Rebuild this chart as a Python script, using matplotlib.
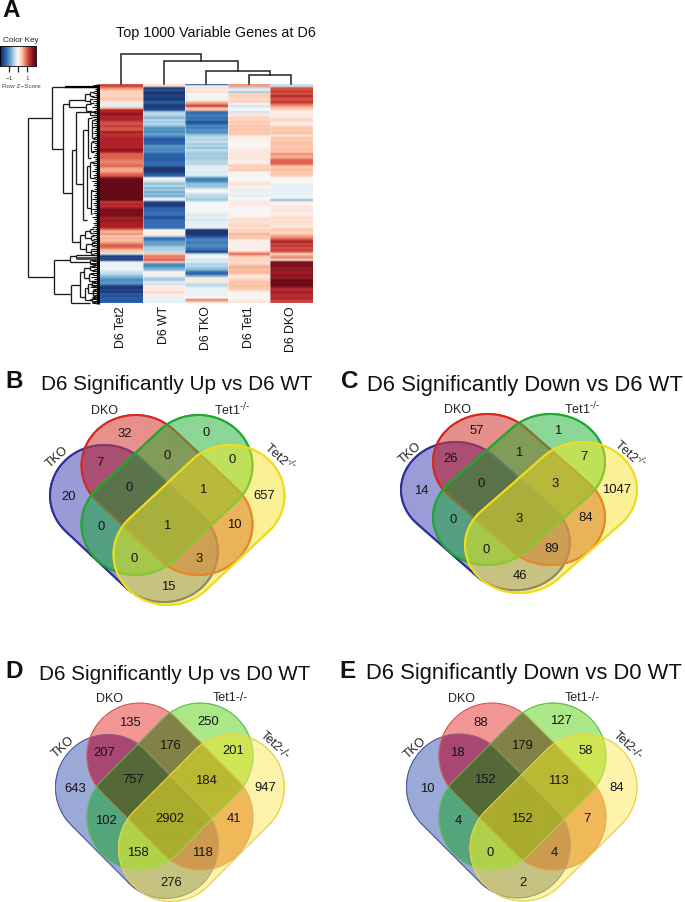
import numpy as np
import matplotlib
matplotlib.use("Agg")
import matplotlib.pyplot as plt
from matplotlib.colors import LinearSegmentedColormap, to_rgb
from matplotlib.collections import LineCollection

plt.rcParams['font.family'] = ['Liberation Sans', 'DejaVu Sans']
plt.rcParams['mathtext.default'] = 'regular'

W, H = 685, 902

# ---------------- data ----------------
samples = ["D6 Tet2", "D6 WT", "D6 TKO", "D6 Tet1", "D6 DKO"]
tet2 = [1.0,1.3,.8,.5,.3,.4,.3,.5,.4,.2,-.2,-.2,.5,1.5,1.5,1.8,1.5,1.5,1.5,1.2,1.1,1.3,1.1,1.1,1.6,1.4,1.4,1.5,1.5,1.5,1.5,1.5,1.5,1.8,1.5,1.0,1.0,1.0,
        .9,.8,.9,1.0,.7,.6,.7,1.0,1.1,1.8,2,2,2,2,2,2,2,2,2,2,2,1.3,1.5,1.4,1.6,1.9,1.8,1.9,1.8,1.5,1.7,1.6,1.5,1.6,1.4,.8,.5,
        .8,.4,.6,.5,.6,.9,1.1,.9,.5,.4,-.3,-1.8,-1.7,-1.8,-.2,-.1,-.2,0,-.2,-.3,-.4,-.7,-.9,-1.2,-1.0,-1.1,-1.8,-1.9,-1.7,-1.9,-1.5,-1.7,-1.5,-1.6,-1.5]
wt = [.3,.2,-1.9,-1.6,-1.9,-1.9,-1.7,-1.9,-1.9,-1.5,-1.7,-1.9,-1.8,-1.7,-.5,-.4,-.5,-.8,-.4,-.6,-.4,-.7,-1.1,-1.0,-1.2,-.9,-1.1,-1.5,-1.6,-1.5,-1.5,-1.0,-1.1,-1.2,-1.1,-1.5,-1.5,-1.5,
      -1.6,-1.4,-1.4,-1.5,-1.9,-1.9,-1.9,-1.6,-1.5,0,-.1,-.4,-.7,-.4,-.8,-.5,-.9,-.6,-.9,-.3,0,-1.7,-1.9,-1.8,-1.5,-1.5,-1.4,-1.3,-1.5,-1.7,-1.4,-1.4,-1.4,-1.4,-1.4,0,.1,
      .1,-.3,-1.4,-1.3,-.9,-1.0,-.7,-.5,-.5,-.4,.4,.9,.8,1.1,.4,-1.1,-1.2,-.9,-.7,0,.1,-.1,-.5,-.6,-.2,-.3,.1,.2,.1,.3,.2,.1,-.15,-.15,-.15]
tko = [-1.7,-.1,.3,.1,.3,0,-.1,-.05,.1,.5,.8,1.3,.5,.5,-1.4,-1.4,-1.2,-1.4,-1.3,-1.7,-1.5,-1.1,-1.3,-1.0,-1.2,-.8,-.5,-.4,-.5,-.3,-.6,-.4,-.7,-.3,-.5,-.6,-.5,-.6,
       -.5,-.4,-.5,-.2,-.2,-.15,-.25,-.2,-.3,-1.1,-1.3,-1.0,-.6,-.7,-.4,-.05,0,-.35,-.4,-.5,-.6,-.1,0,-.02,.02,0,-.05,-.2,-.25,-.1,-.3,-.15,-.2,-.1,-.25,-1.9,-1.9,
       -1.9,-1.7,-1.4,-1.1,-1.3,-1.2,-1.1,-1.3,-1.4,-1.8,-.4,0,-.1,-.3,-.2,-.5,-.4,-.6,-.8,-1.4,-1.5,-.8,.1,.2,.1,-.4,-.4,-.1,-.15,-.1,-.15,-.05,.05,.9,.3]
tet1 = [.7,.7,-.4,.05,-.6,.3,.4,.3,.3,.4,0,-.3,-.1,0,-.3,.2,.2,.4,.3,.5,.3,.5,.4,.5,.4,.5,.2,.1,.1,.05,-.03,0,.1,.15,.2,.2,.15,.2,
        .15,.05,.2,.45,.3,.5,.1,-.05,-.05,0,.02,.15,.25,.1,.05,-.2,-.1,-.1,-.2,0,-.1,.15,.2,.1,.05,0,-.03,.05,.05,.2,.3,.2,.3,.35,.2,.4,.3,
        .6,.4,.5,.15,.1,.1,.05,.15,.05,.5,1.0,.5,.3,.35,.3,.3,.55,.6,.45,.6,.4,.15,.25,.35,.5,.45,.5,.45,.4,.05,.02,.05,0,.15,.2]
dko = [-.4,-.3,1.1,1.2,1.3,1.1,1.5,1.2,1.1,1.4,1.0,.7,.5,.3,.05,.15,.1,.2,.4,.15,.05,.3,.5,.4,.5,.45,.2,.5,.4,.5,.5,.45,.5,.5,.45,.8,.6,.7,
       1.0,1.0,1.0,.5,.45,.55,.4,.5,.35,.02,.02,.05,-.1,-.15,-.1,-.2,-.05,-.2,-.1,-.1,-.7,.1,.05,.2,.15,.2,.15,.05,.2,.3,.2,.3,.25,.15,.3,.5,.3,.45,
       .7,.8,1.3,1.5,1.2,1.4,1.1,1.3,1.0,.3,.7,.8,.2,1.9,1.8,1.9,1.6,1.8,1.6,1.7,1.8,1.6,2.0,1.9,2.0,1.9,1.5,1.4,1.6,1.5,1.4,1.5,1.3,1.2]

# column dendrogram: (left x position, right x position, height)
col_merges = [(3.0, 4.0, 0.26), (2.0, 3.5, 0.39), (1.0, 2.75, 0.69), (0.0, 1.875, 0.88)]

# row dendrogram: branch x, top y, bottom y, x reached at top, x reached at bottom
row_merges = [(28,118,277,52,54),(52,87,149,65,63),(65,87,87,65,96),(63,104,193,69,72.5),(69,100,107,85,86),
 (85,94,101,90,90),(90,92,96,94,94),(90,99,103,93,94),(86,104,111,91,92),(72.5,150,242,76.5,80),
 (76.5,112,184,90,83),(90,112,115,96,96),(83,130,220,88,87),(88,118,158,92,91),(92,120,138,95,95),(91,142,152,94,94),
 (87,166,208,90,91),(90,162,178,94,95),(91,190,214,93,92),(80,235,249,85,86),(85,231,238,90,91),(90,229,233,94,94),
 (91,236,240,94,94),(86,244,252,92,91),(92,242,246,95,95),(91,249,254,95,94),(54,260,294,70,71),(70,256,262,76,90),
 (76,255,258,96,96),(90,260,264,96,96),(71,285,303,80,90),(80,272,297,84,85),(84,268,278,90,89),(90,266,270,95,95),
 (89,274,281,94,94),(85,288,300,88,92),(88,284,293,92,93),(92,282,286,96,96),(93,290,296,96,96),(92,298,302,96,96)]
leaf_x = [93,94,95,94,93,95,92,94,93,95,94,92,95,93,94,95,92,94,95,93,94,92,95,94,93,95,94,93,92,94,
          95,93,94,92,95,94,93,95,94,92,93,95,94,92,95,93,94,95,92,94,93,95,94,92,95,93,94,92,95,93,
          94,95,92,94,93,95,92,94,95,93,94,92,95,93,94,92,95,93,94,92,93,95,94,92,94,95,93,94,92,90,
          93,91,94,92,90,93,91,94,92,93,91,90,93,92,91,94,92,90,93,92]

key_ticks = [-1, 0, 1]
key_tick_labels = ["\u22121", "", "1"]

set_names_a = ["TKO", "DKO", "Tet1$^{\\text{-/-}}$", "Tet2$^{\\text{-/-}}$"]
set_names_b = ["TKO", "DKO", "Tet1-/-", "Tet2-/-"]
counts_b = [32,0,7,0,0,0,1,20,657,0,1,10,0,3,15]
counts_c = [57,1,26,1,7,0,3,14,1047,0,3,84,0,89,46]
counts_d = [135,250,207,176,201,757,184,643,947,102,2902,41,158,118,276]
counts_e = [88,127,18,179,58,152,113,10,84,4,152,7,0,4,2]
titles = ["D6 Significantly Up vs D6 WT", "D6 Significantly Down vs D6 WT",
          "D6 Significantly Up vs D0 WT", "D6 Significantly Down vs D0 WT"]

# region colours: key = membership (TKO, DKO, Tet1, Tet2)
strong_regions = {(1,0,0,0):(155,155,215),(0,1,0,0):(230,145,140),(0,0,1,0):(140,215,150),(0,0,0,1):(250,240,150),
 (1,1,0,0):(170,80,115),(0,1,1,0):(130,155,90),(1,0,1,0):(85,160,130),(1,1,1,0):(90,115,75),(0,0,1,1):(190,225,90),
 (0,1,0,1):(235,180,90),(0,1,1,1):(185,185,60),(1,0,0,1):(200,195,130),(1,1,1,1):(170,175,60),(1,0,1,1):(165,200,75),(1,1,0,1):(205,160,85)}
soft_regions = {(1,0,0,0):(155,170,215),(0,1,0,0):(243,150,150),(0,0,1,0):(172,232,135),(0,0,0,1):(253,243,170),
 (1,1,0,0):(168,72,115),(0,1,1,0):(130,130,70),(1,0,1,0):(85,165,125),(1,1,1,0):(85,105,55),(0,0,1,1):(208,230,85),
 (0,1,0,1):(240,185,90),(0,1,1,1):(185,185,50),(1,0,0,1):(198,195,130),(1,1,1,1):(170,172,45),(1,0,1,1):(175,210,75),(1,1,0,1):(205,155,80)}

# ---------------- layout ----------------
fig = plt.figure(figsize=(W/100, H/100), dpi=100)
def px_axes(x0, y0, x1, y1):
    return fig.add_axes([x0/W, 1-y1/H, (x1-x0)/W, (y1-y0)/H])

bg = fig.add_axes([0, 0, 1, 1])
bg.set_xlim(0, W); bg.set_ylim(H, 0); bg.axis('off')

cmap = LinearSegmentedColormap.from_list("key", [
    (0.0, '#1a2c62'), (0.125, '#2c62ac'), (0.25, '#5a9cc8'), (0.375, '#add2e4'), (0.45, '#e2eef5'),
    (0.5, '#f8f8f8'), (0.55, '#fde6da'), (0.625, '#fdc3a6'), (0.75, '#e0654f'), (0.875, '#b2232a'), (1.0, '#640a16')])

# heatmap: each sample is blurred along rows only, so the columns stay crisp
M = np.array([tet2, wt, tko, tet1, dko]).T
hm = px_axes(100.3, 84.3, 312.3, 303.5)
for j in range(M.shape[1]):
    hm.imshow(np.repeat(M[:, [j]], 2, axis=1), aspect='auto', cmap=cmap, vmin=-2, vmax=2, interpolation='bilinear',
              extent=(j-.5, j+.5, len(M)-.5, -.5))
hm.set_xlim(-.5, 4.5); hm.set_ylim(len(M)-.5, -.5)
for v in np.arange(.5, 4, 1):
    hm.axvline(v, color='white', lw=.5, alpha=.55)
hm.set_yticks([])
hm.set_xticks(range(5))
hm.set_xticklabels(samples, rotation=90, fontsize=8.8, color='#111111')
hm.tick_params(axis='x', length=0, pad=2)
for s in hm.spines.values():
    s.set_visible(False)

# column dendrogram
cd = px_axes(100.3, 50, 312.3, 84.3)
cd.set_xlim(-.5, 4.5); cd.set_ylim(0, 1); cd.axis('off')
node_h = {}
for l, r, h in col_merges:
    cd.plot([l, l, r, r], [node_h.get(l, 0), h, h, node_h.get(r, 0)], color='#222222', lw=1.1,
            solid_joinstyle='miter', clip_on=False)
    node_h[(l+r)/2] = h

# row dendrogram
segs = []
for x, y0, y1, c0, c1 in row_merges:
    segs += [[(x, y0), (x, y1)], [(x, y0), (c0, y0)], [(x, y1), (c1, y1)]]
bg.add_collection(LineCollection(segs, colors='#1a1a1a', linewidths=.95))
row_y = 84.3 + (np.arange(len(leaf_x)) + .5) * (303.5-84.3)/len(leaf_x)
bg.add_collection(LineCollection([[(lx, y), (98.8, y)] for lx, y in zip(leaf_x, row_y)],
                                 colors='#111111', linewidths=.8))
bg.plot([97.6, 97.6], [84.3, 303.5], color='black', lw=2.4, solid_capstyle='butt')
bg.plot([65, 97], [87, 87], color='black', lw=1.6, solid_capstyle='butt')
bg.plot([76, 96], [258, 258], color='#444444', lw=2.0, solid_capstyle='butt')

# colour key
ck = px_axes(0, 46, 36, 66)
grad = np.linspace(-2, 2, 15)[None, :]
ck.imshow(grad, aspect='auto', cmap=cmap, vmin=-2, vmax=2, extent=(-2, 2, 0, 1), interpolation='bilinear')
ck.set_yticks([])
ck.set_xticks(key_ticks)
ck.set_xticklabels(key_tick_labels, fontsize=4.6, color='#444444')
ck.tick_params(axis='x', length=4, width=.9, pad=3.5, color='#222222')
for s in ck.spines.values():
    s.set_linewidth(.6)
bg.text(20.5, 40, "Color Key", ha='center', va='center', fontsize=5.9, color='#222222')
bg.text(21, 87, "Row Z\u2212Score", ha='center', va='center', fontsize=4.6, color='#444444')
bg.text(216, 33, "Top 1000 Variable Genes at D6", ha='center', va='center', fontsize=10.4, color='#111111')

# panel letters
for s, x, y in [("A", 11.5, 10.5), ("B", 14, 382), ("C", 349.5, 382), ("D", 14, 671), ("E", 347.5, 671)]:
    bg.text(x, y, s, ha='center', va='center', fontsize=17.5, fontweight='bold', color='#111111')

# ---------------- venn panels ----------------
D_CAP = 0.58

def capsule_axis(hw, hh, sign, low_scale=1.0):
    sx, sy = hw/(1+D_CAP), hh/(1+D_CAP)
    if sign > 0:
        a = (-D_CAP, -D_CAP); b = (D_CAP*low_scale, D_CAP*low_scale)
    else:
        a = (D_CAP, -D_CAP); b = (-D_CAP*low_scale, D_CAP*low_scale)
    return a, b, sx, sy

def capsule_outline(cx, cy, hw, hh, sign, low_scale=1.0):
    a, b, sx, sy = capsule_axis(hw, hh, sign, low_scale)
    mid = np.pi/4 if sign > 0 else 3*np.pi/4
    t1 = np.linspace(mid-np.pi/2, mid+np.pi/2, 90)
    t2 = t1 + np.pi
    pts = np.r_[np.c_[b[0]+np.cos(t1), b[1]+np.sin(t1)], np.c_[a[0]+np.cos(t2), a[1]+np.sin(t2)]]
    # densify the straight runs so that each can change colour where it is covered
    closed = np.r_[pts, pts[:1]]
    dense = []
    for p0, p1 in zip(closed[:-1], closed[1:]):
        n = max(1, int(np.hypot(*(p1-p0))/0.03))
        dense.append(p0 + (p1-p0)*np.arange(n)[:, None]/n)
    pts = np.vstack(dense+[closed[:1]])
    return np.c_[cx+sx*pts[:, 0], cy+sy*pts[:, 1]]

def capsule_mask(X, Y, cx, cy, hw, hh, sign, low_scale=1.0):
    a, b, sx, sy = capsule_axis(hw, hh, sign, low_scale)
    u, v = (X-cx)/sx, (Y-cy)/sy
    ab = np.array(b)-np.array(a)
    t = np.clip(((u-a[0])*ab[0]+(v-a[1])*ab[1])/(ab @ ab), 0, 1)
    return (u-a[0]-t*ab[0])**2+(v-a[1]-t*ab[1])**2 <= 1

strong = dict(regions=strong_regions, edges=['#2f2f9c', '#d42a20', '#1fa82e', '#efdc20'],
              layers=['#4a4fb8', '#d8443c', '#2ec24c', '#f7e430'], lw=1.5)
soft = dict(regions=soft_regions, edges=['#4a5aa8', '#dd5a50', '#5cc050', '#ecd840'],
            layers=['#5068b8', '#ee4c50', '#66d84a', '#fbe84c'], lw=.7)
LOW = [0.9, 1, 1, 1]

panels = [
 dict(title=titles[0], tx=176.5, ty=385, fs=14.9, c=(167,495), b=(135.5,525), y=(199,525), hw=85.5, hh=80, style=strong, names=set_names_a,
      counts=counts_b, name_xy=[(57,457),(105,411),(232,410),(280,457)],
      xy=[(125,434),(206,433),(100,463),(167,456),(232,460),(129,488),(203,490),(69,497),(264,496),(101,527),(167,526),(234,525),(134,559),(199,559),(168,587)]),
 dict(title=titles[1], tx=525, ty=385, fs=15.8, c=(519,489.5), b=(487,517.5), y=(551,517.5), hw=86, hh=75.5, style=strong, names=set_names_a,
      counts=counts_c, name_xy=[(410,453),(458,410),(582,409),(630,454)],
      xy=[(477,431),(558,431),(451,459),(519,453),(584,457),(481,484),(555,484),(421,491),(617,490),(453,520),(519,519),(586,518),(486,550),(552,549),(520,576)]),
 dict(title=titles[2], tx=175, ty=674, fs=14.9, c=(170,786.5), b=(138.5,818), y=(201.5,818), hw=83, hh=83.5, style=soft, names=set_names_b,
      counts=counts_d, name_xy=[(63,747),(110,699),(230,698),(275,746)],
      xy=[(130,723),(208,722),(104,753),(170,746),(233,751),(133,780),(206,781),(75,789),(265,788),(106,821),(170,819),(234,819),(138,853),(202,853),(171,883)]),
 dict(title=titles[3], tx=524, ty=674, fs=15.8, c=(522.5,786.5), b=(490,817.5), y=(553.5,817.5), hw=83.5, hh=83.5, style=soft, names=set_names_b,
      counts=counts_e, name_xy=[(415,748),(462,699),(582,698),(628,746)],
      xy=[(481,723),(561,721),(457,753),(522,746),(586,751),(485,780),(558,781),(427,789),(617,788),(458,821),(522,819),(587,819),(490,853),(554,853),(523,883)]),
]
rotations = [42, 0, 0, -42]

for p in panels:
    st = p['style']
    shapes = [(p['b'], 1), (p['c'], 1), (p['c'], -1), (p['y'], -1)]
    x0, x1 = p['b'][0]-p['hw']-3, p['y'][0]+p['hw']+3
    y0, y1 = p['c'][1]-p['hh']-3, p['y'][1]+p['hh']+3
    xs = np.arange(x0, x1, 1/3); ys = np.arange(y0, y1, 1/3)
    X, Y = np.meshgrid(xs, ys)
    masks = [capsule_mask(X, Y, c[0], c[1], p['hw'], p['hh'], sg, ls)
             for (c, sg), ls in zip(shapes, LOW)]
    img = np.zeros(X.shape+(4,))
    for key, rgb in st['regions'].items():
        m = np.ones(X.shape, bool)
        for k, mk in zip(key, masks):
            m &= mk if k else ~mk
        img[m] = (rgb[0]/255, rgb[1]/255, rgb[2]/255, 1)
    bg.imshow(img, extent=(x0, x1, y1, y0), aspect='auto', interpolation='antialiased', zorder=1)
    # outlines: a stretch that lies under a later capsule is tinted by that capsule's fill
    for i, ((c, sg), ec, ls) in enumerate(zip(shapes, st['edges'], LOW)):
        pts = capsule_outline(c[0], c[1], p['hw'], p['hh'], sg, ls)
        mids = (pts[:-1]+pts[1:])/2
        cols = np.tile(to_rgb(ec), (len(mids), 1))
        for j in range(i+1, 4):
            cj, sj = shapes[j]
            inside = capsule_mask(mids[:, 0], mids[:, 1], cj[0], cj[1], p['hw'], p['hh'], sj, LOW[j])
            cols[inside] = .5*cols[inside] + .5*np.array(to_rgb(st['layers'][j]))
        lc = LineCollection(np.stack([pts[:-1], pts[1:]], axis=1), colors=cols, linewidths=st['lw'],
                            capstyle='round', zorder=2+i*.1)
        bg.add_collection(lc)
    for v, (x, y) in zip(p['counts'], p['xy']):
        bg.text(x, y, str(v), ha='center', va='center', fontsize=9.4, color='#151515', zorder=3)
    for name, (x, y), r in zip(p['names'], p['name_xy'], rotations):
        bg.text(x, y, name, ha='center', va='center', rotation=r, rotation_mode='anchor', fontsize=9, color='#222222', zorder=3)
    bg.text(p['tx'], p['ty'], p['title'], ha='center', va='center', fontsize=p['fs'], color='#111111', zorder=3)

bg.set_xlim(0, W); bg.set_ylim(H, 0)
fig.savefig("out.png", dpi=100)
